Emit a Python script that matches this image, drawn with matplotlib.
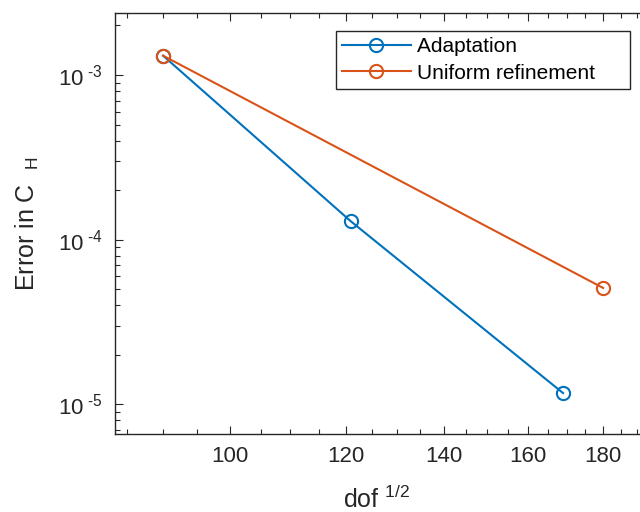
import numpy as np
import matplotlib
matplotlib.use('Agg')
import matplotlib.pyplot as plt
from matplotlib.ticker import FixedLocator, FixedFormatter, FuncFormatter, LogLocator, NullFormatter

plt.rcParams['font.family'] = ['Liberation Sans', 'DejaVu Sans']
plt.rcParams['mathtext.fontset'] = 'custom'
plt.rcParams['mathtext.rm'] = 'Liberation Sans'
plt.rcParams['mathtext.it'] = 'Liberation Sans'
plt.rcParams['mathtext.default'] = 'regular'

# convergence data: error vs sqrt(dof)
dof_adapt = [90, 121, 169]
err_adapt = [1.31e-3, 1.29e-4, 1.17e-5]
dof_uniform = [90, 180]
err_uniform = [1.31e-3, 5.09e-5]
series_labels = ['Adaptation', 'Uniform refinement']
x_ticks = [100, 120, 140, 160, 180]
x_tick_labels = ['100', '120', '140', '160', '180']

blue = '#0072BD'
orange = '#D95319'
axis_color = '#262626'

fig = plt.figure(figsize=(6.4, 5.12), dpi=100)
ax = fig.add_axes([115 / 640, (512 - 433.7) / 512, 535 / 640, (433.7 - 13.3) / 512])

ax.plot(dof_adapt, err_adapt, '-o', color=blue, lw=1.5, ms=9.5, mfc='none',
        mew=1.5, label=series_labels[0])
ax.plot(dof_uniform, err_uniform, '-o', color=orange, lw=1.5, ms=9.5, mfc='none',
        mew=1.5, label=series_labels[1])

ax.set_xscale('log')
ax.set_yscale('log')
ax.set_xlim(83.43, 193.8)
ax.set_ylim(6.63e-6, 2.37e-3)

ax.xaxis.set_major_locator(FixedLocator(x_ticks))
ax.xaxis.set_major_formatter(FixedFormatter(x_tick_labels))
minor_x = [v for v in range(85, 195, 5) if v not in x_ticks]
ax.xaxis.set_minor_locator(FixedLocator(minor_x))
ax.xaxis.set_minor_formatter(NullFormatter())

ax.yaxis.set_major_locator(LogLocator(base=10, numticks=10))
ax.yaxis.set_minor_locator(LogLocator(base=10, subs=np.arange(2, 10), numticks=20))
ax.yaxis.set_minor_formatter(NullFormatter())
ax.yaxis.set_major_formatter(FuncFormatter(
    lambda v, p: '10$^{\\ \u2010%d}$' % abs(int(round(np.log10(v))))))

for s in ax.spines.values():
    s.set_color(axis_color)
    s.set_linewidth(1.0)
ax.tick_params(which='both', direction='in', top=True, right=True,
               color=axis_color, labelcolor=axis_color, labelsize=16, width=0.8)
ax.tick_params(which='major', length=6, pad=9)
ax.tick_params(which='minor', length=3.5)

ax.set_xlabel('dof $^{1/2}$', fontsize=18, color=axis_color)
ax.xaxis.set_label_coords((377 - 115) / 535, -0.124)
ax.xaxis.label.set_verticalalignment('top')
ax.set_ylabel('Error in C  $_{H}$', fontsize=18, color=axis_color, labelpad=12)

leg = ax.legend([l + '     ' for l in series_labels],
                loc='upper right', bbox_to_anchor=(630 / 640, 1 - 31 / 512),
                bbox_transform=fig.transFigure, borderaxespad=0, fontsize=15,
                handlelength=3.3, handletextpad=0.3, labelspacing=0.35,
                borderpad=0.3, fancybox=False, framealpha=1, numpoints=1)
leg.get_frame().set_edgecolor(axis_color)
leg.get_frame().set_linewidth(1.0)

fig.savefig('out.png', dpi=100)
